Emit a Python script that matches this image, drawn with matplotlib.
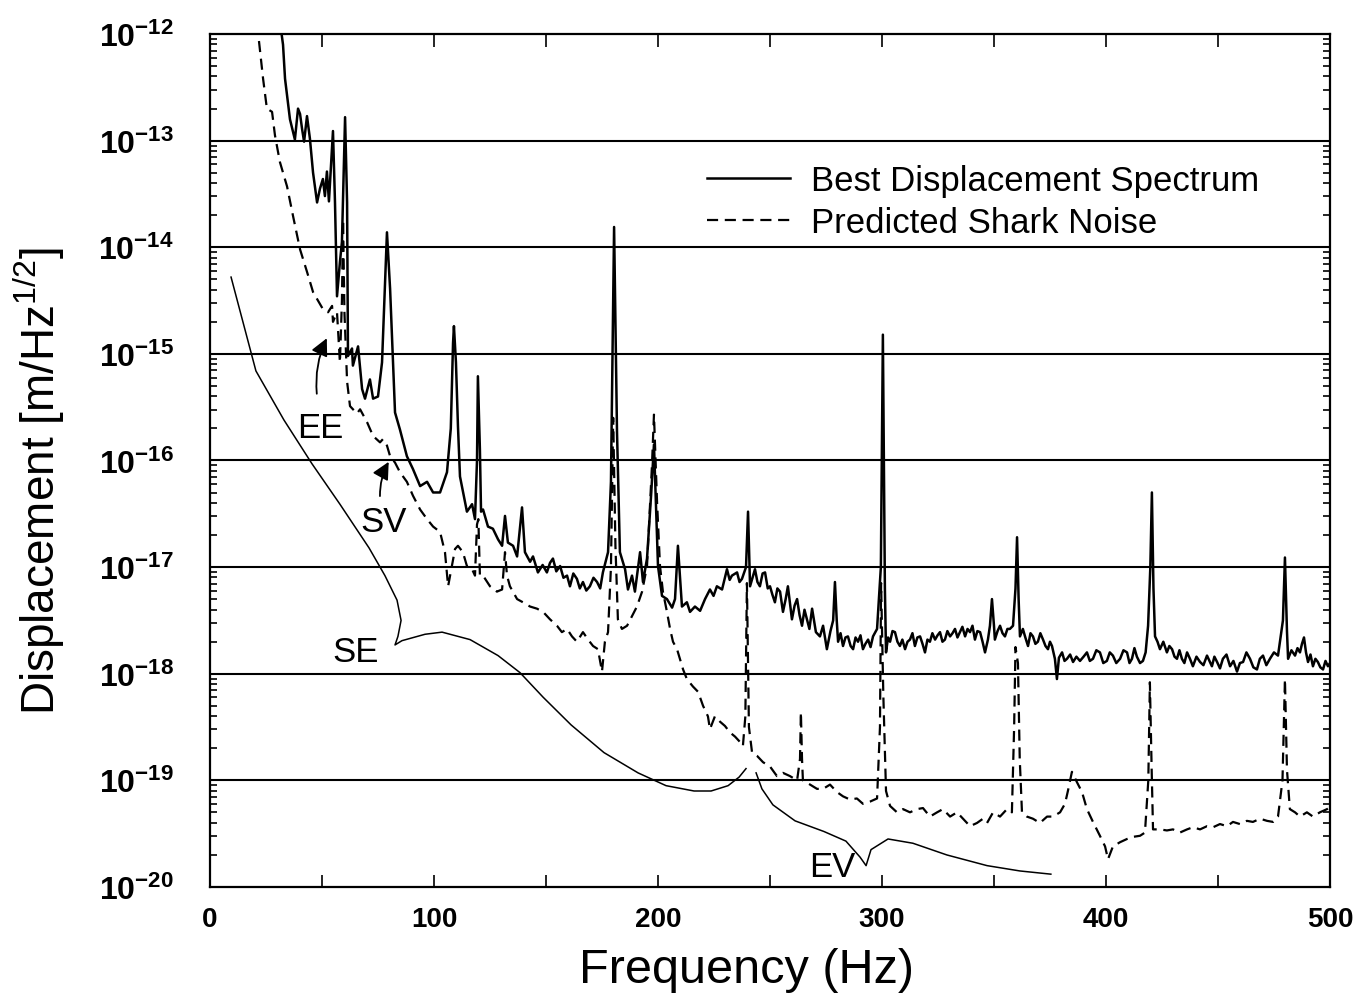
import numpy as np
import matplotlib.pyplot as plt
from matplotlib.ticker import FixedLocator, LogLocator, NullFormatter, MultipleLocator

plt.rcParams['font.family'] = ['Liberation Sans', 'DejaVu Sans']
plt.rcParams['mathtext.fontset'] = 'custom'
plt.rcParams['mathtext.rm'] = 'Liberation Sans'
plt.rcParams['mathtext.bf'] = 'Liberation Sans:bold'
plt.rcParams['mathtext.it'] = 'Liberation Sans:italic'

# (frecuencia Hz, log10 desplazamiento)
best_spectrum = [
    (31.0, -11.85), (32.6, -12.10), (33.5, -12.42), (35.7, -12.80), (37.9, -12.99), (39.3, -12.70),
    (40.2, -12.75), (41.1, -12.89), (42.0, -13.01), (43.3, -12.77), (44.6, -12.98), (46.0, -13.30),
    (47.8, -13.58), (49.1, -13.45), (50.4, -13.36), (51.3, -13.52), (52.2, -13.29), (53.1, -13.57),
    (54.9, -12.91), (55.8, -13.58), (56.7, -14.46), (58.0, -14.14), (58.9, -13.95), (60.3, -12.78),
    (61.2, -13.58), (61.6, -15.02), (63.4, -14.95), (63.8, -15.11), (66.1, -14.93), (67.9, -15.33),
    (69.2, -15.42), (71.4, -15.24), (72.8, -15.42), (75.0, -15.40), (76.8, -15.08), (79.0, -13.86),
    (80.4, -14.39), (81.7, -15.08), (82.6, -15.55), (84.8, -15.71), (87.9, -15.96), (90.6, -16.08),
    (93.8, -16.24), (96.9, -16.20), (99.6, -16.30), (102.7, -16.30), (105.8, -16.11), (107.5, -15.70),
    (108.5, -14.90), (108.9, -14.74), (109.8, -15.08), (110.7, -15.68), (111.6, -16.15), (114.7, -16.48),
    (117.0, -16.41), (118.3, -16.55), (119.2, -16.00), (119.6, -15.21), (120.5, -15.90), (121.0, -16.48),
    (121.9, -16.46), (124.1, -16.62), (126.3, -16.64), (128.6, -16.74), (130.4, -16.80), (131.7, -16.52),
    (133.0, -16.77), (135.3, -16.80), (137.1, -16.90), (139.3, -16.44), (140.6, -16.86), (142.9, -16.95),
    (144.2, -16.90), (146.4, -17.05), (148.5, -16.98), (150.4, -17.05), (151.8, -16.96), (153.1, -16.92),
    (154.6, -17.04), (156.3, -16.99), (157.8, -17.10), (159.4, -17.08), (160.7, -17.18), (162.2, -17.06),
    (163.8, -17.11), (165.1, -17.20), (166.5, -17.14), (168.0, -17.22), (169.6, -17.18), (171.2, -17.10),
    (172.8, -17.14), (174.2, -17.20), (175.4, -17.05), (177.7, -16.86), (179.0, -16.20), (180.4, -13.81),
    (181.7, -15.73), (183.0, -16.86), (185.3, -17.02), (186.6, -17.21), (188.4, -17.08), (189.7, -17.23),
    (192.0, -16.86), (193.3, -17.14), (195.1, -16.92), (197.0, -16.30), (198.2, -15.85), (199.2, -16.50),
    (200.0, -16.99), (201.8, -17.27), (204.0, -17.30), (206.3, -17.38), (207.6, -17.30), (208.9, -16.80),
    (210.7, -17.37), (212.9, -17.33), (214.3, -17.42), (216.5, -17.37), (218.8, -17.41), (221.0, -17.30),
    (223.2, -17.21), (224.8, -17.27), (226.3, -17.18), (228.6, -17.21), (230.8, -17.02), (232.0, -17.12),
    (233.0, -17.08), (235.3, -17.05), (236.4, -17.14), (237.5, -17.11), (239.3, -17.00), (240.2, -16.48),
    (241.1, -17.18), (242.2, -17.10), (243.3, -17.02), (244.4, -17.14), (245.5, -17.18), (246.7, -17.06),
    (247.8, -17.05), (249.0, -17.20), (250.0, -17.18), (251.1, -17.26), (252.2, -17.33), (253.3, -17.20),
    (254.5, -17.23), (255.8, -17.42), (257.0, -17.30), (258.0, -17.18), (259.8, -17.49), (261.0, -17.36),
    (262.1, -17.30), (263.2, -17.45), (264.3, -17.55), (265.4, -17.40), (266.5, -17.49), (267.6, -17.58),
    (268.8, -17.39), (270.5, -17.61), (272.3, -17.65), (273.7, -17.55), (275.4, -17.77), (277.0, -17.60),
    (278.2, -17.50), (279.0, -17.14), (279.8, -17.50), (280.4, -17.70), (281.5, -17.62), (282.6, -17.74),
    (283.7, -17.66), (284.8, -17.65), (286.0, -17.74), (287.1, -17.77), (288.2, -17.66), (289.3, -17.70),
    (290.4, -17.64), (291.5, -17.77), (292.6, -17.72), (293.8, -17.68), (294.9, -17.75), (296.0, -17.65),
    (297.8, -17.58), (299.5, -17.00), (300.4, -14.82), (301.3, -17.20), (301.8, -17.80), (302.7, -17.66),
    (303.6, -17.70), (304.7, -17.60), (305.8, -17.61), (306.9, -17.70), (308.0, -17.74), (309.1, -17.68),
    (310.3, -17.77), (311.4, -17.70), (312.5, -17.68), (313.6, -17.62), (314.7, -17.74), (315.8, -17.66),
    (317.0, -17.65), (318.1, -17.72), (319.2, -17.80), (320.3, -17.68), (321.4, -17.70), (322.5, -17.62),
    (323.7, -17.68), (324.8, -17.64), (325.9, -17.61), (327.0, -17.70), (328.1, -17.68), (329.2, -17.60),
    (330.4, -17.65), (331.5, -17.62), (332.6, -17.58), (333.7, -17.66), (334.8, -17.61), (335.9, -17.56),
    (337.1, -17.65), (338.2, -17.58), (339.3, -17.61), (340.4, -17.55), (341.5, -17.68), (342.6, -17.60),
    (343.8, -17.61), (344.9, -17.70), (346.0, -17.80), (347.3, -17.68), (348.2, -17.55), (349.1, -17.30),
    (350.0, -17.55), (350.4, -17.68), (351.6, -17.60), (352.7, -17.55), (353.8, -17.62), (354.9, -17.65),
    (356.0, -17.58), (357.1, -17.58), (358.5, -17.55), (359.6, -17.20), (360.3, -16.72), (361.0, -17.30),
    (361.6, -17.65), (362.9, -17.58), (364.0, -17.66), (365.2, -17.74), (366.3, -17.62), (367.4, -17.65),
    (368.5, -17.72), (369.6, -17.70), (370.7, -17.62), (371.9, -17.68), (373.0, -17.74), (374.1, -17.77),
    (375.0, -17.70), (375.9, -17.74), (377.2, -17.86), (378.1, -18.05), (379.0, -17.85), (380.4, -17.80),
    (381.5, -17.88), (382.6, -17.86), (384.0, -17.82), (385.3, -17.89), (386.8, -17.84), (388.4, -17.88),
    (390.0, -17.84), (391.5, -17.80), (392.8, -17.88), (394.2, -17.86), (395.7, -17.78), (397.3, -17.80),
    (398.8, -17.90), (400.4, -17.88), (401.7, -17.80), (403.1, -17.83), (404.6, -17.90), (406.3, -17.86),
    (407.8, -17.78), (409.4, -17.80), (410.5, -17.90), (411.6, -17.86), (412.7, -17.76), (413.8, -17.84),
    (415.2, -17.90), (416.5, -17.88), (417.7, -17.80), (418.8, -17.55), (419.8, -17.00), (420.5, -16.30),
    (421.2, -17.20), (421.9, -17.65), (423.0, -17.70), (424.1, -17.77), (425.6, -17.70), (427.2, -17.80),
    (428.3, -17.74), (429.5, -17.77), (430.6, -17.84), (431.7, -17.86), (432.8, -17.78), (433.9, -17.86),
    (435.0, -17.90), (436.2, -17.80), (437.5, -17.86), (438.8, -17.93), (440.4, -17.84), (442.0, -17.89),
    (443.5, -17.92), (445.1, -17.83), (446.2, -17.88), (447.3, -17.93), (448.4, -17.84), (449.6, -17.89),
    (450.9, -17.95), (452.2, -17.86), (453.8, -17.82), (455.4, -17.93), (456.9, -17.88), (458.5, -17.98),
    (459.8, -17.90), (461.2, -17.89), (462.7, -17.80), (464.3, -17.86), (465.8, -17.94), (467.4, -17.96),
    (468.7, -17.86), (470.1, -17.83), (471.6, -17.92), (473.2, -17.86), (475.0, -17.80), (476.8, -17.83),
    (479.0, -17.50), (479.9, -16.91), (480.8, -17.60), (481.3, -17.86), (482.8, -17.78), (484.4, -17.83),
    (485.5, -17.76), (486.6, -17.80), (487.5, -17.72), (488.4, -17.66), (489.3, -17.80), (490.2, -17.89),
    (491.3, -17.82), (492.4, -17.93), (493.5, -17.86), (494.6, -17.89), (495.7, -17.94), (496.9, -17.96),
    (498.0, -17.88), (499.1, -17.93), (500.0, -17.90),
]

shark_noise = [
    (21.0, -11.90), (23.7, -12.42), (25.4, -12.70), (27.7, -12.73), (29.0, -12.95), (31.2, -13.20),
    (34.4, -13.43), (37.1, -13.71), (40.2, -14.02), (43.3, -14.23), (46.0, -14.42), (50.4, -14.58),
    (52.7, -14.61), (54.5, -14.55), (54.9, -14.70), (56.7, -14.61), (58.0, -15.08), (58.9, -14.50),
    (59.4, -13.74), (60.0, -14.60), (61.2, -15.26), (62.5, -15.49), (65.6, -15.56), (67.0, -15.52),
    (70.1, -15.64), (72.8, -15.77), (75.9, -15.83), (77.2, -15.80), (79.0, -15.86), (80.4, -15.96),
    (82.6, -16.02), (84.8, -16.11), (87.9, -16.20), (90.6, -16.33), (93.8, -16.46), (96.9, -16.55),
    (99.6, -16.62), (102.7, -16.67), (104.9, -16.86), (106.3, -17.18), (108.0, -16.99), (109.4, -16.83),
    (110.7, -16.80), (112.9, -16.86), (114.7, -16.99), (117.0, -17.02), (118.3, -17.08), (119.2, -16.60),
    (119.8, -16.55), (120.5, -17.08), (121.9, -17.08), (125.0, -17.18), (128.1, -17.23), (130.4, -17.21),
    (131.7, -16.86), (132.6, -17.08), (133.9, -17.18), (137.1, -17.30), (139.7, -17.33), (142.9, -17.37),
    (146.0, -17.39), (148.7, -17.42), (151.8, -17.49), (154.9, -17.55), (157.1, -17.61), (159.4, -17.58),
    (161.6, -17.65), (163.8, -17.70), (166.5, -17.61), (168.8, -17.68), (171.0, -17.74), (173.2, -17.77),
    (175.0, -17.98), (176.3, -17.70), (177.7, -17.61), (179.0, -17.00), (180.0, -15.60), (181.0, -16.80),
    (182.1, -17.49), (183.9, -17.58), (186.2, -17.55), (188.4, -17.46), (190.6, -17.37), (192.9, -17.23),
    (195.1, -16.99), (197.3, -16.05), (198.2, -15.57), (199.6, -16.40), (200.9, -16.99), (202.2, -17.23),
    (204.0, -17.42), (205.4, -17.58), (206.7, -17.70), (208.5, -17.77), (209.8, -17.86), (211.2, -17.96),
    (212.9, -18.05), (215.6, -18.12), (217.9, -18.17), (220.1, -18.30), (222.3, -18.40), (223.2, -18.52),
    (225.4, -18.40), (227.7, -18.45), (229.9, -18.49), (232.1, -18.55), (234.4, -18.59), (236.6, -18.64),
    (237.9, -18.68), (239.0, -18.40), (239.7, -17.15), (240.6, -18.50), (242.0, -18.74), (244.2, -18.77),
    (246.9, -18.83), (250.0, -18.87), (253.1, -18.96), (255.8, -18.93), (258.9, -18.96), (262.1, -19.00),
    (263.4, -18.80), (263.8, -18.36), (264.3, -18.80), (264.7, -19.00), (267.9, -19.04), (271.0, -19.08),
    (273.7, -19.08), (276.8, -19.04), (279.9, -19.11), (282.6, -19.15), (285.7, -19.18), (288.8, -19.17),
    (291.5, -19.22), (294.6, -19.20), (297.8, -19.17), (299.1, -18.50), (299.6, -17.15), (300.6, -18.20),
    (301.8, -19.10), (303.6, -19.24), (306.7, -19.30), (309.4, -19.27), (312.5, -19.30), (315.6, -19.27),
    (318.3, -19.26), (321.4, -19.34), (324.6, -19.30), (327.2, -19.27), (330.4, -19.34), (333.5, -19.30),
    (336.2, -19.36), (339.3, -19.43), (342.4, -19.40), (345.1, -19.36), (346.9, -19.40), (349.6, -19.30),
    (352.7, -19.34), (355.8, -19.27), (358.0, -19.30), (359.0, -18.50), (359.6, -17.75), (360.7, -17.90),
    (361.5, -18.80), (362.5, -19.30), (364.7, -19.34), (367.4, -19.36), (370.5, -19.40), (373.7, -19.34),
    (376.3, -19.34), (379.5, -19.30), (381.7, -19.22), (383.0, -19.10), (384.8, -18.92), (387.1, -19.02),
    (389.3, -19.11), (391.5, -19.27), (394.2, -19.39), (397.3, -19.52), (399.6, -19.62), (400.9, -19.74),
    (403.1, -19.62), (406.3, -19.58), (409.4, -19.55), (412.1, -19.53), (415.2, -19.52), (417.4, -19.49),
    (418.9, -19.00), (419.6, -18.08), (420.4, -18.90), (421.0, -19.46), (424.1, -19.46), (427.2, -19.47),
    (429.9, -19.46), (433.0, -19.49), (436.2, -19.46), (438.8, -19.44), (442.0, -19.46), (445.1, -19.43),
    (447.8, -19.44), (450.9, -19.41), (454.0, -19.43), (456.7, -19.39), (459.8, -19.41), (462.9, -19.38),
    (465.6, -19.39), (468.8, -19.36), (471.9, -19.38), (474.6, -19.39), (476.8, -19.34), (478.8, -19.00),
    (479.9, -18.05), (480.8, -18.90), (482.1, -19.27), (484.4, -19.30), (486.6, -19.34), (489.7, -19.30),
    (492.4, -19.34), (495.5, -19.30), (498.7, -19.27), (500.0, -19.25),
]

# curvas finas dibujadas a mano (llaves SE y EV)
se_curve = [
    (9.4, -14.28), (20.5, -15.16), (33.0, -15.62), (45.5, -16.03), (58.0, -16.41), (71.0, -16.82),
    (78.1, -17.08), (83.5, -17.31), (85.3, -17.50), (83.9, -17.65), (82.6, -17.73), (85.7, -17.69),
    (96.0, -17.63), (103.6, -17.61), (116.1, -17.68), (128.6, -17.83), (138.4, -17.99), (148.7, -18.22),
    (161.2, -18.48), (175.9, -18.74), (191.1, -18.93), (203.6, -19.05), (216.1, -19.10), (223.7, -19.10),
    (231.3, -19.05), (236.2, -18.97), (239.3, -18.89),
]
ev_curve = [
    (243.8, -18.93), (246.4, -19.08), (251.3, -19.23), (261.2, -19.38), (274.1, -19.48), (283.9, -19.57),
    (290.2, -19.72), (292.9, -19.80), (295.1, -19.65), (302.7, -19.55), (313.8, -19.59), (329.0, -19.70),
    (346.9, -19.80), (361.6, -19.85), (375.4, -19.88),
]

# etiquetas: (texto, f, log10), flechas: (f_punta, log_punta, f_cola, log_cola)
labels = [('EE', 49.1, -15.69), ('SV', 77.7, -16.57), ('SE', 65.2, -17.79), ('EV', 278.0, -19.81)]
arrows = [(52.7, -14.83, 47.8, -15.40), (80.4, -15.99, 75.9, -16.36)]

y_decades = list(range(-20, -11))


def split(pairs):
    f = np.array([p[0] for p in pairs])
    d = 10.0 ** np.array([p[1] for p in pairs])
    return f, d


fig = plt.figure(figsize=(13.61, 10.03), dpi=100)
ax = fig.add_axes([0.1543, 0.1147, 0.8229, 0.8504])

f, d = split(best_spectrum)
ax.plot(f, d, color='black', lw=1.8, label='Best Displacement Spectrum')
f, d = split(shark_noise)
ax.plot(f, d, color='black', lw=1.6, ls=(0, (5, 3)), label='Predicted Shark Noise')
for curve in (se_curve, ev_curve):
    f, d = split(curve)
    ax.plot(f, d, color='black', lw=1.1)

for txt, fx, ly in labels:
    ax.text(fx, 10.0 ** ly, txt, fontsize=25, ha='center', va='center')
for fx, ly, tx, ty in arrows:
    ax.annotate('', xy=(fx, 10.0 ** ly), xytext=(tx, 10.0 ** ty),
                arrowprops=dict(arrowstyle='-|>', color='black', lw=1.3,
                                mutation_scale=26, connectionstyle='arc3,rad=-0.15'))

ax.set_yscale('log')
ax.set_xlim(0, 500)
ax.set_ylim(1e-20, 1e-12)

for e in y_decades[1:-1]:
    ax.axhline(10.0 ** e, color='black', lw=1.5, zorder=0)

ax.xaxis.set_major_locator(MultipleLocator(100))
ax.xaxis.set_minor_locator(MultipleLocator(50))
ax.yaxis.set_major_locator(FixedLocator([10.0 ** e for e in y_decades]))
ax.yaxis.set_minor_locator(LogLocator(base=10, subs=np.arange(2, 10), numticks=20))
ax.yaxis.set_minor_formatter(NullFormatter())
ax.set_yticklabels([r'$\mathbf{10^{%d}}$' % e for e in y_decades])
ax.set_xticks(range(0, 501, 100))
ax.set_xticklabels([str(v) for v in range(0, 501, 100)], fontweight='bold')

ax.tick_params(which='both', direction='in', top=True, right=True, width=1.2)
ax.tick_params(which='major', length=9)
ax.tick_params(which='minor', length=5)
ax.tick_params(axis='x', which='minor', length=9)
ax.tick_params(axis='y', labelsize=23, pad=26)
ax.tick_params(axis='x', labelsize=20, pad=14)
for s in ax.spines.values():
    s.set_linewidth(1.6)

ax.set_xlabel('Frequency (Hz)', fontsize=35)
ax.xaxis.set_label_coords(0.479, -0.070)
ax.set_ylabel(r'Displacement [m/Hz$^{1/2}$]', fontsize=33)
ax.yaxis.set_label_coords(-0.128, 0.477)

ax.legend(loc='upper left', bbox_to_anchor=(0.4438, 0.848), frameon=False, fontsize=25,
          handlelength=2.4, handletextpad=0.58, labelspacing=0.28, borderpad=0, borderaxespad=0)

fig.savefig('out.png', dpi=100)
